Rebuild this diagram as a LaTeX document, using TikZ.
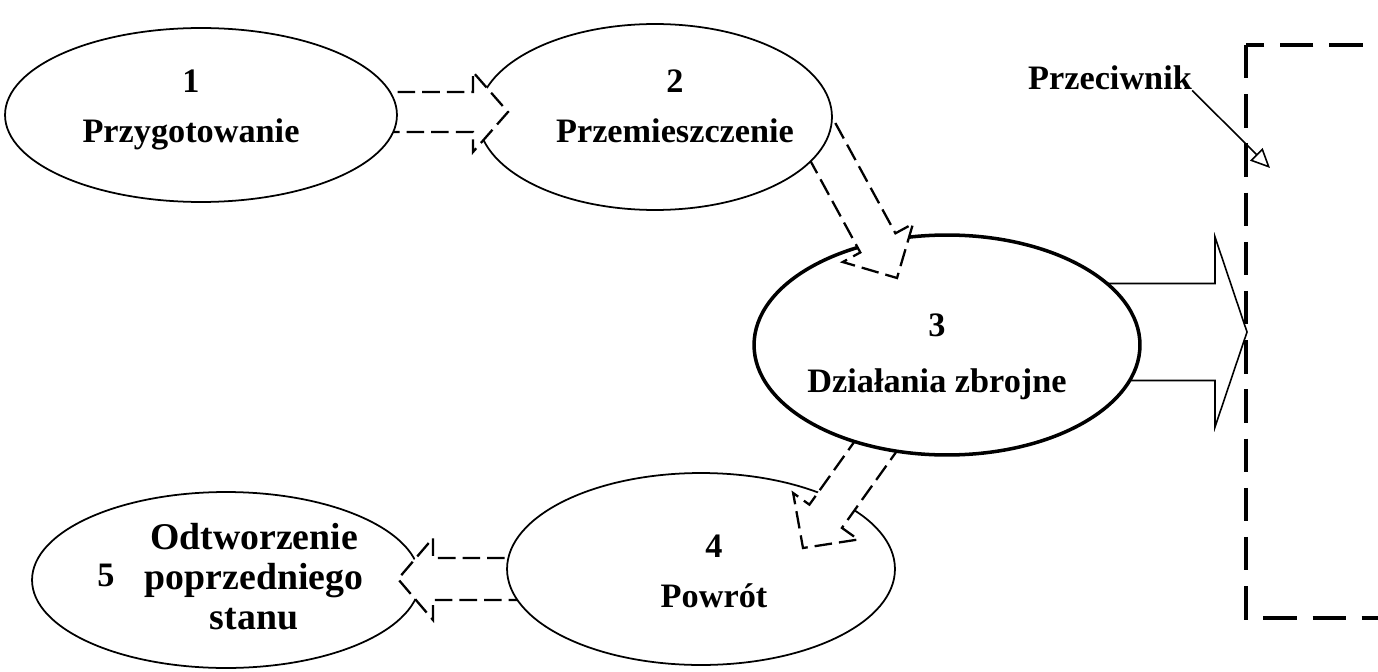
\documentclass[tikz,border=0pt]{standalone}
\usepackage{fontspec}
\setmainfont{Liberation Serif}
\usetikzlibrary{shapes.geometric,calc,arrows.meta}

\tikzset{
  phase/.style={draw, ellipse, fill=white, line width=1pt, inner sep=0pt},
  lbl/.style={font=\bfseries\fontsize{19.5}{22.7}\selectfont, align=center, inner sep=0pt},
  flow/.style={line width=1.3pt, dash pattern=on 10pt off 4pt},
  hit/.style={line width=0.9pt},
  enemy/.style={line width=2.4pt, dash pattern=on 19pt off 9pt},
}

% hollow block arrow: tail #2 (hidden in the source), tip #3,
% shaft half width #4, head half width #5, head length #6
\newcommand\blockarrow[6][flow]{%
  \coordinate (bb) at ($(#3)!#6!(#2)$);
  \fill[white] ($(#2)!#4!90:(#3)$) -- ($(bb)!#4!90:(#3)$) -- ($(bb)!#5!90:(#3)$) -- (#3)
    -- ($(bb)!#5!-90:(#3)$) -- ($(bb)!#4!-90:(#3)$) -- ($(#2)!#4!-90:(#3)$) -- cycle;
  \draw[#1] ($(#2)!#4!90:(#3)$) -- ($(bb)!#4!90:(#3)$) -- ($(bb)!#5!90:(#3)$) -- (#3)
    -- ($(bb)!#5!-90:(#3)$) -- ($(bb)!#4!-90:(#3)$) -- ($(#2)!#4!-90:(#3)$);
}

\begin{document}
\begin{tikzpicture}[x=0.02cm,y=-0.02cm]
  \useasboundingbox (0,0) rectangle (1378,672);
  \clip (0,0) rectangle (1378,672);

  % tails sit inside the source ellipse, tips inside the target
  \coordinate (a12) at (250,112);  \coordinate (t12) at (508,112);
  \coordinate (a23) at (806,111);  \coordinate (t23) at (897,278);
  \coordinate (a34) at (913,394);  \coordinate (t34) at (803,548);
  \coordinate (a45) at (600,579);  \coordinate (t45) at (398,579);
  \coordinate (a3p) at (1000,332); \coordinate (t3p) at (1247,332);

  \node[phase, minimum width=7.76cm, minimum height=3.52cm] (e5) at (226,580) {};
  \node[lbl] (n5) at (106,575) {5};
  \node[lbl, font=\bfseries\fontsize{21.5}{22.7}\selectfont] (t5) at (254,577)
    {Odtworzenie\\poprzedniego\\stanu};
  \blockarrow{a45}{t45}{0.42cm}{0.82cm}{0.7cm}

  \node[phase, minimum width=7.76cm, minimum height=3.84cm] (e4) at (701,569) {};
  \node[lbl] (t4) at (714,571) {4\\[5.7pt]Powrót};
  \blockarrow{a34}{t34}{0.4cm}{0.8cm}{0.78cm}
  \blockarrow[hit]{a3p}{t3p}{0.97cm}{1.9cm}{0.64cm}

  \node[phase, line width=2pt, minimum width=7.72cm, minimum height=4.4cm] (e3) at (947,345) {};
  \node[lbl] (t3) at (937,357) {3\\[9pt]Działania zbrojne};
  \blockarrow{a23}{t23}{0.4cm}{0.8cm}{0.8cm}

  \node[phase, minimum width=7.08cm, minimum height=3.72cm] (e2) at (655,117) {};
  \node[lbl] (t2) at (675,106) {2\\[5.7pt]Przemieszczenie};
  \blockarrow{a12}{t12}{0.4cm}{0.8cm}{0.7cm}

  \node[phase, minimum width=7.84cm, minimum height=3.48cm] (e1) at (201,115) {};
  \node[lbl] (t1) at (191,110) {1\\[5.7pt]Przygotowanie};

  \draw[enemy] (1246,45) rectangle (1420,618);
  \node[lbl] (przec) at (1110,78) {Przeciwnik};
  \coordinate (pz) at (1270,168);
  \draw[hit, -{Triangle[open,length=11pt,width=10pt]}] (przec.south east) -- (pz);
\end{tikzpicture}
\end{document}
